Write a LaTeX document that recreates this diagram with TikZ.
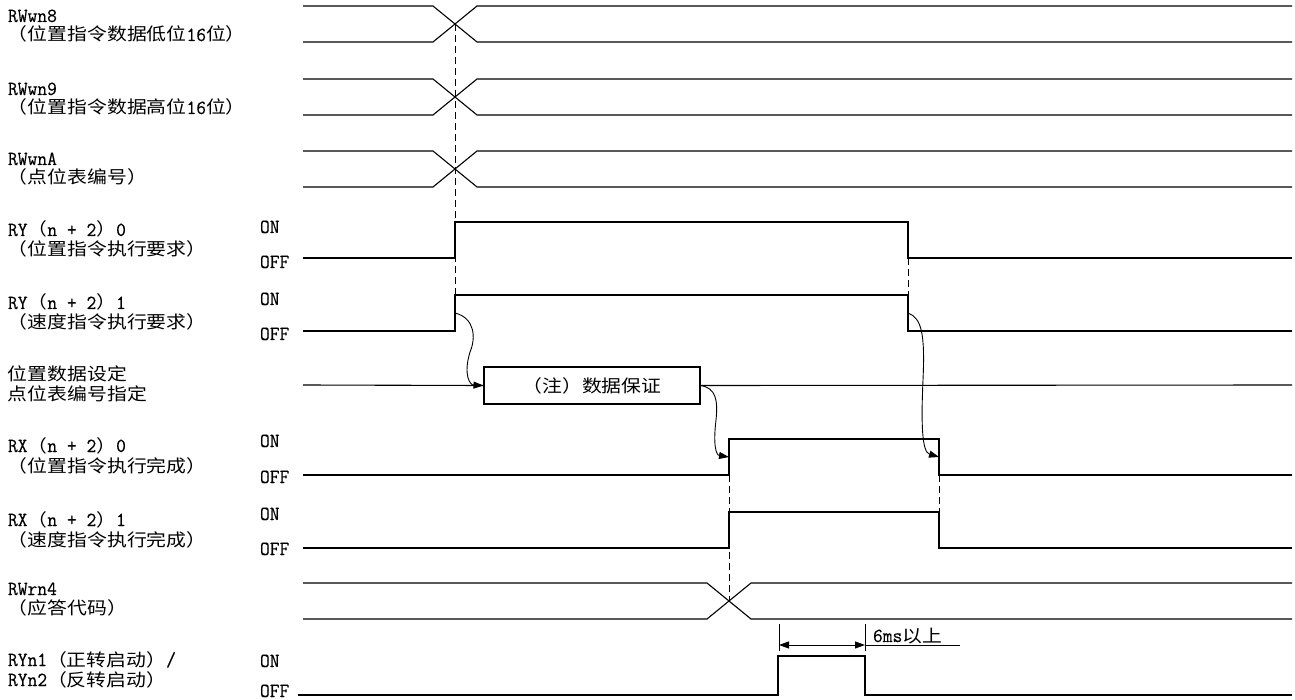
\documentclass[tikz,border=0pt]{standalone}
\usepackage{fontspec}
\setmonofont[FakeStretch=0.95,FakeBold=0.4]{Latin Modern Mono}
\newfontfamily\cjkfont[FakeStretch=1.14,Scale=0.87]{Noto Sans CJK SC}
\newcommand\zh[1]{{\cjkfont #1}}
\usetikzlibrary{arrows.meta}
\begin{document}
\begin{tikzpicture}[x=1pt,y=-1pt,
  sig/.style={line width=1.1pt, line join=miter},
  guide/.style={line width=0.9pt, dash pattern=on 7pt off 4pt},
  lbl/.style={anchor=base west, inner sep=0pt, outer sep=0pt, font=\fontsize{20}{20}\selectfont\ttfamily},
  cause/.style={line width=0.9pt, -{Triangle[length=10pt,width=7pt]}},
  dim/.style={line width=0.9pt},
  dimarrow/.style={line width=0.9pt, {Triangle[length=10pt,width=7pt]}-{Triangle[length=10pt,width=7pt]}}]
\useasboundingbox (0,0) rectangle (1295,700);

% ---------- labels ----------
\node[lbl] (n8a) at (8,22) {RWwn8};
\node[lbl] (n8b) at (8,41) {\zh{（位置指令数据低位}16\zh{位）}};
\node[lbl] (n9a) at (8,95) {RWwn9};
\node[lbl] (n9b) at (8,114) {\zh{（位置指令数据高位}16\zh{位）}};
\node[lbl] (nAa) at (8,165) {RWwnA};
\node[lbl] (nAb) at (8,184) {\zh{（点位表编号）}};
\node[lbl] (y0a) at (8,236) {RY\zh{（}n + 2\zh{）}0};
\node[lbl] (y0b) at (8,256) {\zh{（位置指令执行要求）}};
\node[lbl] (y1a) at (8,309) {RY\zh{（}n + 2\zh{）}1};
\node[lbl] (y1b) at (8,329) {\zh{（速度指令执行要求）}};
\node[lbl] (pda) at (8,381) {\zh{位置数据设定}};
\node[lbl] (pdb) at (8,400) {\zh{点位表编号指定}};
\node[lbl] (x0a) at (8,452) {RX\zh{（}n + 2\zh{）}0};
\node[lbl] (x0b) at (8,472) {\zh{（位置指令执行完成）}};
\node[lbl] (x1a) at (8,526) {RX\zh{（}n + 2\zh{）}1};
\node[lbl] (x1b) at (8,546) {\zh{（速度指令执行完成）}};
\node[lbl] (r4a) at (8,595) {RWrn4};
\node[lbl] (r4b) at (8,614) {\zh{（应答代码）}};
\node[lbl] (s1a) at (8,666) {RYn1\zh{（正转启动）}/};
\node[lbl] (s1b) at (8,686) {RYn2\zh{（反转启动）}};

% ON / OFF
\node[lbl] (on0) at (260,233) {ON};
\node[lbl] (off0) at (260,268) {OFF};
\node[lbl] (on1) at (260,305) {ON};
\node[lbl] (off1) at (260,340) {OFF};
\node[lbl] (on2) at (260,447) {ON};
\node[lbl] (off2) at (260,483) {OFF};
\node[lbl] (on3) at (260,520) {ON};
\node[lbl] (off3) at (260,555) {OFF};
\node[lbl] (on4) at (260,667) {ON};
\node[lbl] (off4) at (260,697) {OFF};

% ---------- data buses ----------
\draw[sig] (303,6) -- (433,6) -- (477,42) -- (1292,42);
\draw[sig] (303,42) -- (433,42) -- (477,6) -- (1292,6);
\draw[sig] (303,79) -- (433,79) -- (477,115) -- (1292,115);
\draw[sig] (303,115) -- (433,115) -- (477,79) -- (1292,79);
\draw[sig] (303,151) -- (433,151) -- (477,187) -- (1292,187);
\draw[sig] (303,187) -- (433,187) -- (477,151) -- (1292,151);
\draw[sig] (303,583) -- (707,583) -- (751,619) -- (1292,619);
\draw[sig] (303,619) -- (707,619) -- (751,583) -- (1292,583);

% ---------- bit signals ----------
\draw[sig] (303,258) -- (455,258) -- (455,222) -- (908,222) -- (908,258) -- (1292,258);
\draw[sig] (303,331) -- (455,331) -- (455,295) -- (908,295) -- (908,331) -- (1292,331);
\draw[sig] (303,475) -- (729,475) -- (729,439) -- (939,439) -- (939,475) -- (1292,475);
\draw[sig] (303,548) -- (729,548) -- (729,512) -- (939,512) -- (939,548) -- (1292,548);
\draw[sig] (298,695) -- (778,695) -- (778,656) -- (865,656) -- (865,695) -- (1292,695);

% ---------- data guarantee ----------
\node[draw, line width=1.1pt, minimum width=216pt, minimum height=37pt, inner sep=0pt,
      font=\fontsize{20}{20}\selectfont\ttfamily] (dg) at (592,385.5) {\zh{（注）数据保证}};
\draw[sig] (303,385) -- (dg.west);
\draw[sig] (dg.east) -- (1292,385);

% ---------- guides ----------
\draw[guide] (455,24) -- (455,295);
\draw[guide] (908,258) -- (908,295);
\draw[guide] (729,475) -- (729,601);
\draw[guide] (939,475) -- (939,512);

% ---------- cause arrows ----------
\coordinate (ry1r) at (455,313);
\coordinate (ry1f) at (908,313);
\coordinate (rx0r) at (729,457);
\coordinate (rx0f) at (939,457);
\draw[cause] (ry1r) .. controls (475,318) and (476,338) .. (470,352) .. controls (463,375) and (470,385) .. (dg.west);
\draw[cause] (dg.east) .. controls (716,388) and (718,400) .. (716,420) .. controls (713,445) and (716,455) .. (rx0r);
\draw[cause] (ry1f) .. controls (922,318) and (925,335) .. (923,380) .. controls (921,425) and (922,452) .. (rx0f);

% ---------- 6ms dimension ----------
\coordinate (e1t) at (779,624);
\coordinate (e1b) at (779,651);
\coordinate (e2t) at (865,624);
\coordinate (e2b) at (865,651);
\coordinate (d1) at (779,645);
\coordinate (d2) at (865,645);
\coordinate (d3) at (960,645);
\draw[dim] (e1t) -- (e1b);
\draw[dim] (e2t) -- (e2b);
\draw[dimarrow] (d1) -- (d2);
\draw[dim] (d2) -- (d3);
\node[lbl] (t6) at (873,642) {6ms\zh{以上}};
\end{tikzpicture}
\end{document}
